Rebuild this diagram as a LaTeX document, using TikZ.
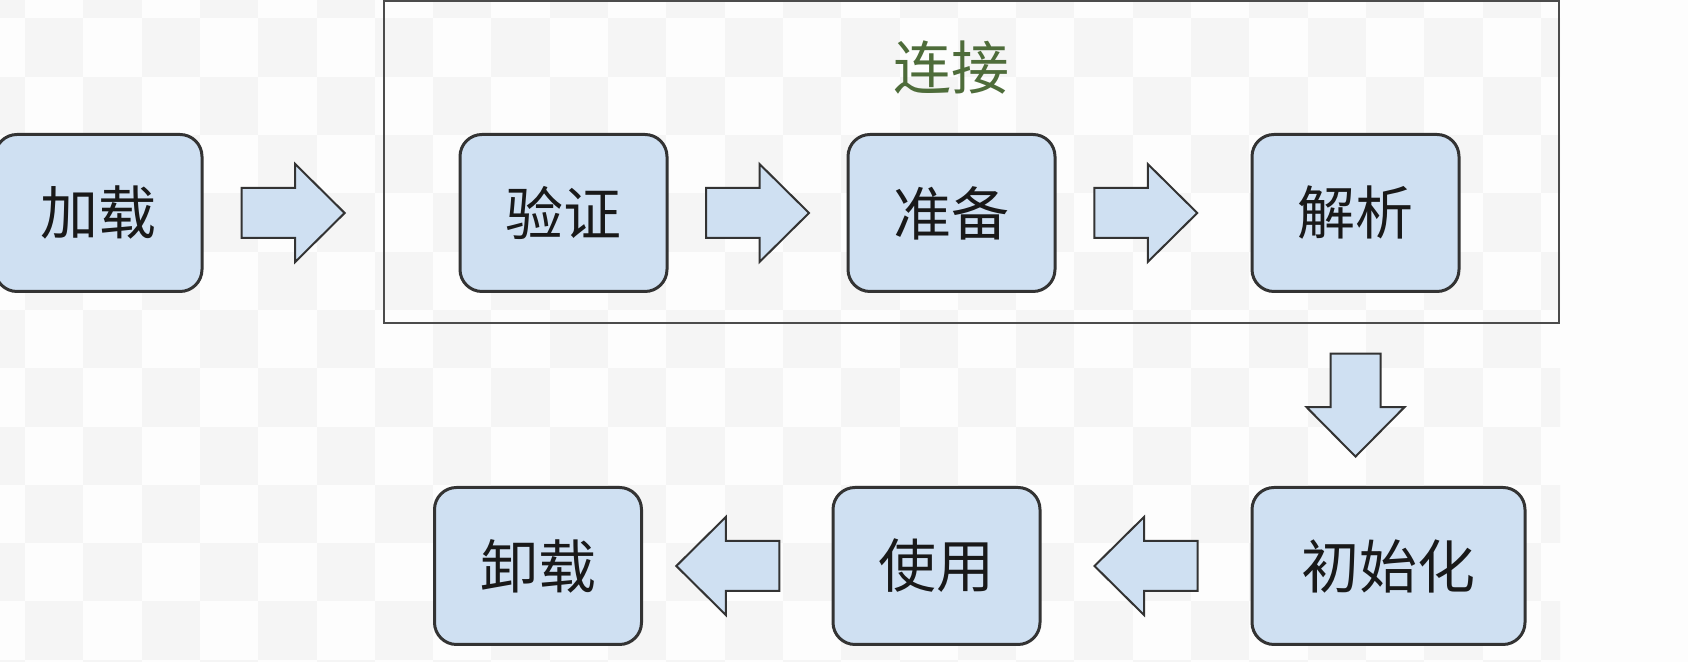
\documentclass[tikz,border=0pt]{standalone}
\usepackage{fontspec}
\setmainfont{Noto Sans CJK SC}
\usetikzlibrary{positioning,calc}
\definecolor{boxblue}{RGB}{207,224,242}
\definecolor{edgegray}{RGB}{51,51,51}
\definecolor{labelgreen}{RGB}{78,108,58}
\definecolor{checkgray}{RGB}{245,245,245}
\definecolor{paper}{RGB}{253,253,253}
\begin{document}
\begin{tikzpicture}
    [x=1pt, y=1pt,
    every node/.style={font=\fontsize{29}{34}\selectfont, text=black!90},
    stage/.style={draw=edgegray, line width=1.5pt, fill=boxblue, rounded corners=11pt,
        minimum width=103.5pt, minimum height=78.5pt, inner sep=0pt},
    groupbox/.style={draw=black!70, line width=1.2pt, minimum width=587.5pt,
        minimum height=161pt, inner sep=0pt},
    grouplabel/.style={text=labelgreen, inner sep=0pt},
    blockarrow/.pic={\draw[draw=edgegray, line width=1pt, fill=boxblue]
        (-25.75,-12.5) -- (1,-12.5) -- (1,-24.5) -- (25.75,0) -- (1,24.5)
        -- (1,12.5) -- (-25.75,12.5) -- cycle;}]
    \useasboundingbox (0,0) rectangle (844,331);
    \fill[paper] (0,0) rectangle (844,331);
    \begin{scope}
        \clip (0,0) rectangle (780,331);
        \foreach \c in {-1,...,26}
            \foreach \r in {-6,...,6}
            {
                \pgfmathtruncatemacro{\odd}{mod(\c+\r+20,2)}
                \ifnum\odd=1
                    \fill[checkgray] (12.5+29.15*\c, 146.85-29.15*\r) rectangle ++(29.15,29.15);
                \fi
            }
    \end{scope}

    \node[groupbox] (connect) at (485.75,250) {};
    \node[stage] (load) at (49.25,224.5) {加载};
    \node[stage] (verify) at (281.75,224.5) {验证};
    \node[stage] (prepare) at (475.75,224.5) {准备};
    \node[stage] (analyze) at (677.75,224.5) {解析};
    \node[stage, minimum width=136.5pt] (init) at (694.25,48) {初始化};
    \node[stage] (use) at (468.25,48) {使用};
    \node[stage] (unload) at (269,48) {卸载};
    \node[grouplabel, above=19pt of prepare] (connectlabel) {连接};

    \pic at ($(load.east)!0.5!(load.east -| connect.west)$) {blockarrow};
    \pic at ($(verify.east)!0.5!(prepare.west)$) {blockarrow};
    \pic at ($(prepare.east)!0.46!(analyze.west)$) {blockarrow};
    \pic[rotate=-90] at ($(analyze |- connect.south)!0.5!(analyze |- init.north)$) {blockarrow};
    \pic[rotate=180] at ($(init.west)!0.5!(use.east)$) {blockarrow};
    \pic[rotate=180] at ($(use.west)!0.55!(unload.east)$) {blockarrow};
\end{tikzpicture}
\end{document}
